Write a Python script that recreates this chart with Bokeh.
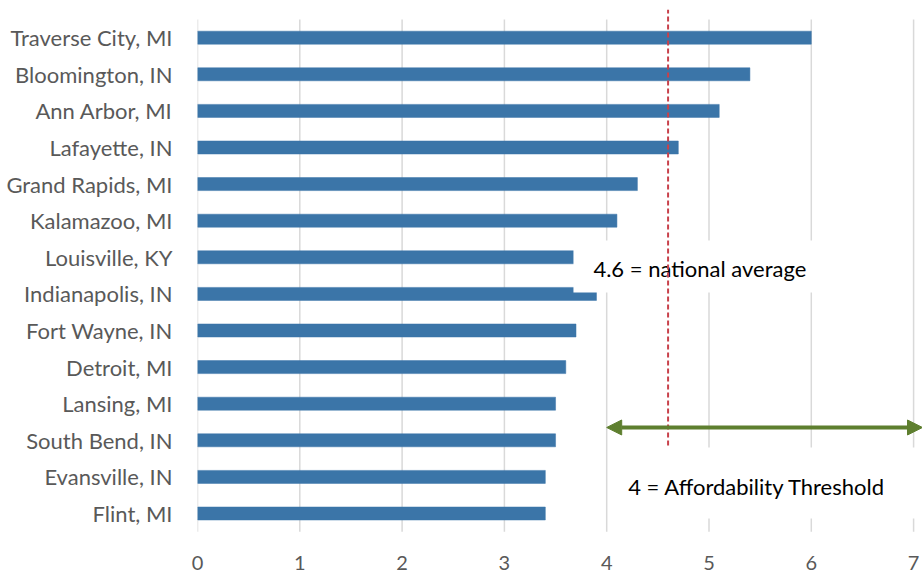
from bokeh.plotting import figure
from bokeh.models import Range1d, FixedTicker, Arrow, NormalHead
from bokeh.embed import file_html
from bokeh.resources import INLINE
from bokeh.core.properties import value

cities = ["Traverse City, MI", "Bloomington, IN", "Ann Arbor, MI", "Lafayette, IN",
          "Grand Rapids, MI", "Kalamazoo, MI", "Louisville, KY", "Indianapolis, IN",
          "Fort Wayne, IN", "Detroit, MI", "Lansing, MI", "South Bend, IN",
          "Evansville, IN", "Flint, MI"]
ratios = [6.0, 5.4, 5.1, 4.7, 4.3, 4.1, 3.7, 3.9, 3.7, 3.6, 3.5, 3.5, 3.4, 3.4]
x_ticks = [0, 1, 2, 3, 4, 5, 6, 7]
national_average = 4.6
threshold = 4.0
label_avg = "4.6 = national average"
label_thr = "4 = Affordability Threshold"

n = len(cities)
ypos = [n - 1 - i for i in range(n)]

FONT = "Lato"
GRAY = "#595959"

p = figure(width=922, height=573, output_backend="svg", toolbar_location=None,
           x_range=Range1d(0, 7.087), y_range=Range1d(-0.519, 13.77),
           min_border_left=197, min_border_right=0, min_border_top=9, min_border_bottom=41)
p.outline_line_color = None
p.xgrid.visible = False
p.ygrid.visible = False

# grid lines
p.segment(x0=x_ticks, x1=x_ticks, y0=[-0.5] * len(x_ticks), y1=[n - 0.5] * len(x_ticks),
          line_color="#d9d9d9", line_width=1.5)

# bars
p.hbar(y=ypos, right=ratios, left=0, height=0.355, fill_color="#3b75a8",
       line_color="#3b75a8", line_width=0.5)

# white text box for national average
p.quad(left=[3.675], right=[6.5], bottom=[6.04], top=[7.46], fill_color="white", line_color=None)
p.text(x=[3.87], y=[6.69], text=[label_avg], text_font=value(FONT), text_font_size="22px",
       text_color="black", text_baseline="middle", text_align="left")

# national average line
p.segment(x0=[national_average], x1=[national_average], y0=[1.86], y1=[13.77],
          line_color="#c8414b", line_width=2, line_dash="5 3")

# white text box for threshold
p.quad(left=[4.02], right=[7.2], bottom=[-0.137], top=[1.80], fill_color="white", line_color=None)
p.text(x=[4.21], y=[0.74], text=[label_thr], text_font=value(FONT), text_font_size="22px",
       text_color="black", text_baseline="middle", text_align="left")

green = "#5e7f2f"
p.add_layout(Arrow(x_start=threshold, y_start=2.35, x_end=7.087, y_end=2.35,
                   line_color=green, line_width=4,
                   start=NormalHead(size=15, fill_color=green, line_color=green),
                   end=NormalHead(size=15, fill_color=green, line_color=green)))

# axes
p.yaxis.ticker = FixedTicker(ticks=ypos)
p.yaxis.major_label_overrides = {y: c for y, c in zip(ypos, cities)}
p.xaxis.ticker = FixedTicker(ticks=x_ticks)
for ax in (p.xaxis[0], p.yaxis[0]):
    ax.axis_line_color = None
    ax.major_tick_line_color = None
    ax.minor_tick_line_color = None
    ax.major_label_text_font = FONT
    ax.major_label_text_color = GRAY
p.yaxis.major_label_text_font_size = "22px"
p.xaxis.major_label_text_font_size = "20px"
p.yaxis.major_label_standoff = 19
p.xaxis.major_label_standoff = 17

open("out.html", "w").write(file_html(p, INLINE))
